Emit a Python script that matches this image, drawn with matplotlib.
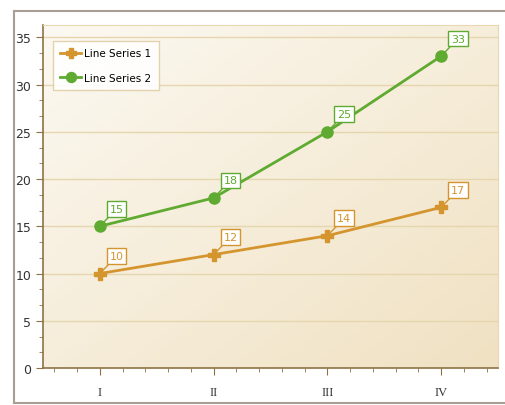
import numpy as np
import matplotlib
matplotlib.use('Agg')
import matplotlib.pyplot as plt
from matplotlib.lines import Line2D
from matplotlib.ticker import MultipleLocator, AutoMinorLocator
from matplotlib.colors import LinearSegmentedColormap

# data
categories = ['I', 'II', 'III', 'IV']
series1 = [10, 12, 14, 17]
series2 = [15, 18, 25, 33]
names = ['Line Series 1', 'Line Series 2']
colors = ['#D4952F', '#5FAA30']

plt.rcParams['font.family'] = ['Liberation Sans Narrow', 'DejaVu Sans']

fig = plt.figure(figsize=(5.05, 4.06), dpi=100)
ax = fig.add_axes([43/505, 37/406, 455/505, 343/406])

# outer frame: left, top, bottom only
fx0, fy0, fy1 = 14/505, 2/406, 394/406
for xs, ys in [([fx0, fx0], [fy0, fy1]), ([fx0, 1], [fy1, fy1]), ([fx0, 1], [fy0, fy0])]:
    fig.add_artist(Line2D(xs, ys, transform=fig.transFigure, color='#A99E94', lw=1.5))

x = np.arange(1, len(categories) + 1)
ax.set_xlim(0.5, 4.5)
ax.set_ylim(0, 36.3)

# gradient background, light top-left to beige bottom-right
cmap = LinearSegmentedColormap.from_list('bg', ['#FCF9F2', '#F6EDDA', '#F0E1C2'])
gx, gy = np.meshgrid(np.linspace(0, 1, 200), np.linspace(0, 1, 200))
grad = (gx + gy) / 2
ax.imshow(grad, cmap=cmap, extent=(0.5, 4.5, 0, 36.3), aspect='auto',
          origin='upper', zorder=0, interpolation='bilinear')

for y in range(5, 36, 5):
    ax.axhline(y, color='#E6D6AE', lw=1.0, zorder=1)

for s in ['top', 'right']:
    ax.spines[s].set_color('#E8D8B2')
for s in ['left', 'bottom']:
    ax.spines[s].set_color('#8C7346')
    ax.spines[s].set_linewidth(1.2)

ax.yaxis.set_major_locator(MultipleLocator(5))
ax.yaxis.set_minor_locator(AutoMinorLocator(3))
ax.set_xticks(x)
ax.set_xticklabels(categories, family='Liberation Serif', fontsize=10, color='#333333')
ax.xaxis.set_minor_locator(MultipleLocator(0.2))
ax.tick_params(axis='both', which='major', length=5, color='#8C7346', labelsize=9,
               labelcolor='#333333')
ax.tick_params(axis='both', which='minor', length=3, color='#8C7346')
ax.tick_params(axis='x', pad=8)

h1, = ax.plot(x, series1, color=colors[0], lw=2, marker='P', ms=8, zorder=3,
              label=names[0])
h2, = ax.plot(x, series2, color=colors[1], lw=2, marker='o', ms=8, zorder=3,
              label=names[1])

for vals, c in [(series1, colors[0]), (series2, colors[1])]:
    for xi, v in zip(x, vals):
        ax.annotate(str(v), (xi, v), xytext=(7, 9), textcoords='offset points',
                    fontsize=8, color=c, ha='left', va='bottom', zorder=4,
                    bbox=dict(boxstyle='square,pad=0.25', fc='white', ec=c, lw=1),
                    arrowprops=dict(arrowstyle='-', color=c, lw=1, shrinkA=0, shrinkB=0))

leg = ax.legend(handles=[h1, h2], loc='upper left', bbox_to_anchor=(10/455, 327/343),
                borderaxespad=0, fontsize=7.5, frameon=True, fancybox=False,
                handlelength=2.0, borderpad=0.7, labelspacing=1.4, handletextpad=0.3,
                markerscale=0.9)
leg.get_frame().set_edgecolor('#E0CFA6')
leg.get_frame().set_facecolor('white')
leg.get_frame().set_alpha(0.9)

fig.savefig('out.png', dpi=100)
